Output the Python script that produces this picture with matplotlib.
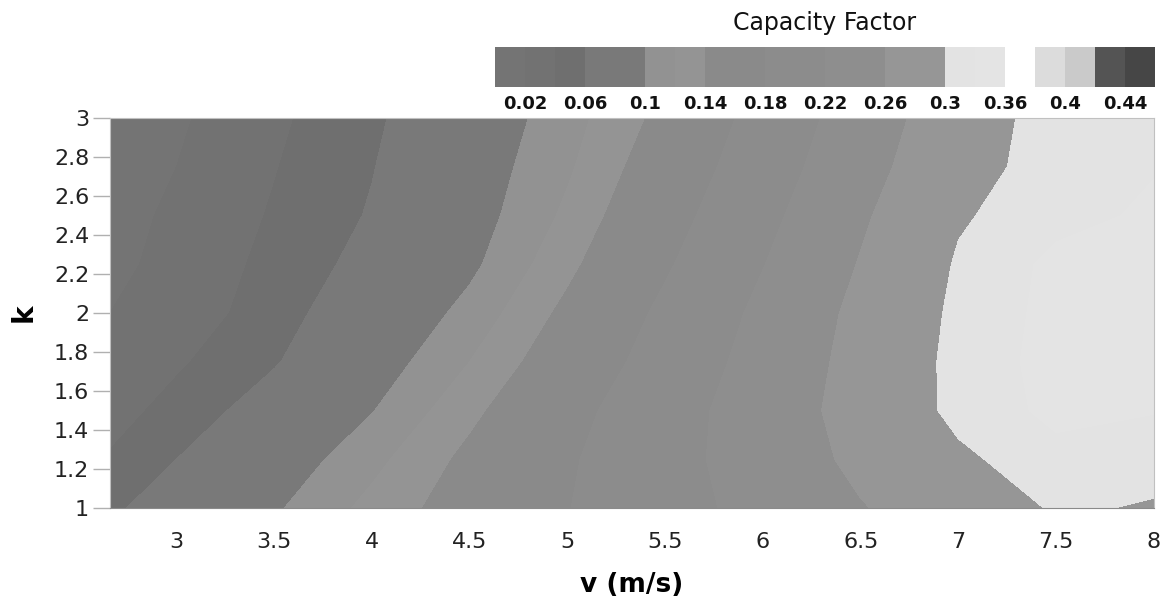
import numpy as np
import matplotlib
matplotlib.use("Agg")
import matplotlib.pyplot as plt

# ---- data ----
v_values = [2.66, 3.0, 3.5, 4.0, 4.5, 5.0, 5.5, 6.0, 6.5, 7.0, 7.5, 8.0]
k_values = [1.0, 1.25, 1.5, 1.75, 2.0, 2.25, 2.5, 2.75, 3.0]

cf_k100 = [0.056, 0.072, 0.097, 0.126, 0.153, 0.179, 0.206, 0.232, 0.258, 0.280, 0.303, 0.298]
cf_k125 = [0.042, 0.060, 0.085, 0.114, 0.146, 0.176, 0.207, 0.238, 0.268, 0.295, 0.314, 0.308]
cf_k150 = [0.032, 0.047, 0.072, 0.099, 0.134, 0.169, 0.204, 0.239, 0.274, 0.307, 0.325, 0.321]
cf_k175 = [0.025, 0.037, 0.058, 0.087, 0.120, 0.157, 0.195, 0.234, 0.272, 0.308, 0.327, 0.335]
cf_k200 = [0.020, 0.027, 0.051, 0.077, 0.107, 0.146, 0.187, 0.228, 0.269, 0.306, 0.326, 0.334]
cf_k225 = [0.016, 0.025, 0.046, 0.068, 0.095, 0.134, 0.176, 0.219, 0.262, 0.303, 0.325, 0.330]
cf_k250 = [0.014, 0.023, 0.042, 0.062, 0.089, 0.124, 0.166, 0.210, 0.255, 0.297, 0.314, 0.323]
cf_k275 = [0.012, 0.020, 0.039, 0.059, 0.086, 0.117, 0.156, 0.201, 0.246, 0.289, 0.311, 0.319]
cf_k300 = [0.010, 0.017, 0.036, 0.056, 0.082, 0.112, 0.147, 0.193, 0.239, 0.283, 0.312, 0.318]

levels = [0.00, 0.02, 0.04, 0.06, 0.08, 0.10, 0.12, 0.14, 0.16, 0.18, 0.20, 0.22,
          0.24, 0.26, 0.28, 0.30, 0.32, 0.34, 0.36, 0.38, 0.40, 0.42, 0.44]
level_colors = ["#747474", "#727272", "#6f6f6f", "#797979", "#797979",
                "#929292", "#949494", "#8a8a8a", "#8a8a8a", "#8c8c8c", "#8c8c8c",
                "#8e8e8e", "#8e8e8e", "#969696", "#969696", "#e3e3e3", "#e4e4e4",
                "#ffffff", "#dcdcdc", "#cacaca", "#545454", "#464646"]

cbar_tick_pos = [1, 3, 5, 7, 9, 11, 13, 15, 17, 19, 21]
cbar_tick_labels = ["0.02", "0.06", "0.1", "0.14", "0.18", "0.22", "0.26", "0.3", "0.36", "0.4", "0.44"]

x_ticks = [3, 3.5, 4, 4.5, 5, 5.5, 6, 6.5, 7, 7.5, 8]
x_tick_labels = ["3", "3.5", "4", "4.5", "5", "5.5", "6", "6.5", "7", "7.5", "8"]
y_ticks = [1, 1.2, 1.4, 1.6, 1.8, 2, 2.2, 2.4, 2.6, 2.8, 3]
y_tick_labels = ["1", "1.2", "1.4", "1.6", "1.8", "2", "2.2", "2.4", "2.6", "2.8", "3"]

# ---- figure ----
plt.rcParams['font.family'] = ['DejaVu Sans']
W, H = 1161, 607
fig = plt.figure(figsize=(W / 100, H / 100), dpi=100)

ax = fig.add_axes([110 / W, 1 - 508 / H, (1154 - 110) / W, (508 - 118) / H])
Z = np.array([cf_k100, cf_k125, cf_k150, cf_k175, cf_k200,
              cf_k225, cf_k250, cf_k275, cf_k300])
V, K = np.meshgrid(v_values, k_values)
ax.contourf(V, K, Z, levels=levels, colors=level_colors)

ax.set_xlim(v_values[0], v_values[-1])
ax.set_ylim(1, 3)
ax.set_xticks(x_ticks)
ax.set_xticklabels(x_tick_labels)
ax.set_yticks(y_ticks)
ax.set_yticklabels(y_tick_labels)
ax.tick_params(axis='x', length=0, pad=17, labelsize=16, colors='#222222')
ax.tick_params(axis='y', length=12, width=1, color='#b0b0b0', pad=3, labelsize=16,
               labelcolor='#222222')
ax.set_xticks([3.5, 7.5], minor=True)
ax.tick_params(axis='x', which='minor', length=10, width=1, color='#888888')

for side in ['top', 'right', 'left']:
    ax.spines[side].set_color('#c0c0c0')
ax.spines['bottom'].set_color('#8a8a8a')

ax.set_xlabel("v (m/s)", fontsize=19, fontweight='bold', labelpad=15)
ax.set_ylabel("k", fontsize=20, fontweight='bold', labelpad=12)

# ---- colour legend ----
cax = fig.add_axes([495 / W, 1 - 87 / H, 660 / W, 40 / H])
seg_idx = np.arange(len(level_colors))
cax.bar(seg_idx, np.ones(len(level_colors)), width=1.0, align='edge',
        color=level_colors, edgecolor='none')
cax.set_xlim(0, len(level_colors))
cax.set_ylim(0, 1)
cax.set_yticks([])
cax.set_xticks(cbar_tick_pos)
cax.set_xticklabels(cbar_tick_labels, fontsize=13, fontweight='bold')
cax.tick_params(axis='x', length=0, pad=6, colors='#111111')
for s in cax.spines.values():
    s.set_visible(False)
cax.set_title("Capacity Factor", fontsize=17, pad=12, color='#111111')

fig.savefig("out.png", dpi=100)
